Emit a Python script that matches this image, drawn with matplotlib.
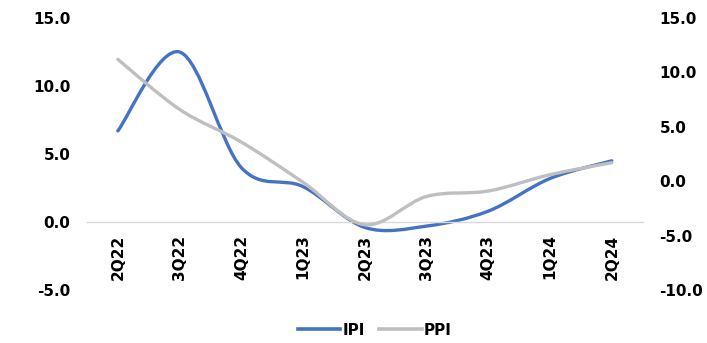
import numpy as np
import matplotlib.pyplot as plt
from matplotlib.path import Path
from matplotlib.patches import PathPatch
from matplotlib.lines import Line2D

quarters = ['2Q22', '3Q22', '4Q22', '1Q23', '2Q23', '3Q23', '4Q23', '1Q24', '2Q24']
ipi = [6.7, 12.5, 4.0, 2.6, -0.4, -0.3, 0.8, 3.2, 4.5]
ppi = [11.2, 6.6, 3.6, -0.1, -4.0, -1.4, -0.9, 0.6, 1.7]

blue = '#4472C4'
grey = '#BFBFBF'

plt.rcParams['font.family'] = 'DejaVu Sans'
plt.rcParams['font.weight'] = 'bold'


def smooth_path(x, y):
    # excel-style smoothed line: cubic bezier segments with catmull-rom handles
    x = np.asarray(x, float)
    y = np.asarray(y, float)
    n = len(x)
    verts = [(x[0], y[0])]
    codes = [Path.MOVETO]
    for i in range(n - 1):
        i0 = max(i - 1, 0)
        i3 = min(i + 2, n - 1)
        c1 = (x[i] + (x[i + 1] - x[i0]) / 6, y[i] + (y[i + 1] - y[i0]) / 6)
        c2 = (x[i + 1] - (x[i3] - x[i]) / 6, y[i + 1] - (y[i3] - y[i]) / 6)
        verts += [c1, c2, (x[i + 1], y[i + 1])]
        codes += [Path.CURVE4] * 3
    return Path(verts, codes)


fig = plt.figure(figsize=(7.07, 3.43), dpi=100)
ax = fig.add_axes([0.123, 0.1545, 0.786, 0.793])
ax2 = ax.twinx()

xs = np.arange(len(quarters))
ax.add_patch(PathPatch(smooth_path(xs, ipi), fill=False, edgecolor=blue,
                       lw=2.4, capstyle='round'))
ax2.add_patch(PathPatch(smooth_path(xs, ppi), fill=False, edgecolor=grey,
                        lw=2.4, capstyle='round'))

ax.set_xlim(-0.5, len(quarters) - 0.5)
ax.set_ylim(-5, 15)
ax2.set_ylim(-10, 15)
ax.set_yticks([-5, 0, 5, 10, 15])
ax2.set_yticks([-10, -5, 0, 5, 10, 15])
ax.yaxis.set_major_formatter(lambda v, p: f'{v:.1f}')
ax2.yaxis.set_major_formatter(lambda v, p: f'{v:.1f}')

for a in (ax, ax2):
    for s in a.spines.values():
        s.set_visible(False)
    a.tick_params(axis='y', length=0, pad=12, labelsize=11)

# category axis crosses at zero
ax.spines['bottom'].set_visible(True)
ax.spines['bottom'].set_position(('data', 0))
ax.spines['bottom'].set_color('#D9D9D9')
ax.spines['bottom'].set_linewidth(1)
ax.set_xticks(xs)
ax.set_xticklabels(quarters, rotation=90, fontsize=11, fontweight='bold')
ax.tick_params(axis='x', length=0, pad=9)

handles = [Line2D([], [], color=blue, lw=2.6), Line2D([], [], color=grey, lw=2.6)]
fig.legend(handles, ['IPI', 'PPI'], loc='lower center', ncol=2, frameon=False,
           bbox_to_anchor=(0.53, -0.025), fontsize=11, handlelength=2.8,
           handletextpad=0.15, columnspacing=0.9)

fig.savefig('out.png', dpi=100)
